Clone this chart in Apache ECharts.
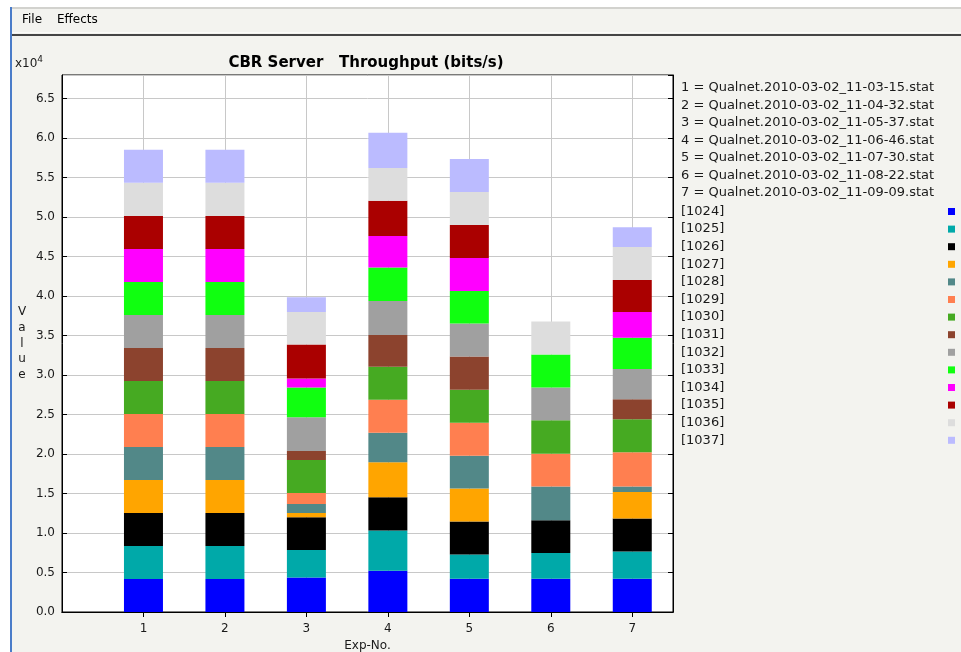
<!DOCTYPE html>
<html>
<head>
<meta charset="utf-8">
<title>CBR Server Throughput</title>
<script src="https://cdn.jsdelivr.net/npm/echarts@6.0.0/dist/echarts.min.js"></script>
<style>
  html, body { margin: 0; padding: 0; background: #fff; }
  #chart { width: 961px; height: 652px; }
</style>
</head>
<body>
<div id="chart"></div>
<script>
// experiment numbers (x axis) and the stat file behind each one
const expNo = ['1', '2', '3', '4', '5', '6', '7'];
const expFiles = [
  'Qualnet.2010-03-02_11-03-15.stat',
  'Qualnet.2010-03-02_11-04-32.stat',
  'Qualnet.2010-03-02_11-05-37.stat',
  'Qualnet.2010-03-02_11-06-46.stat',
  'Qualnet.2010-03-02_11-07-30.stat',
  'Qualnet.2010-03-02_11-08-22.stat',
  'Qualnet.2010-03-02_11-09-09.stat'
];
const flows = ['[1024]', '[1025]', '[1026]', '[1027]', '[1028]', '[1029]', '[1030]',
  '[1031]', '[1032]', '[1033]', '[1034]', '[1035]', '[1036]', '[1037]'];

// throughput in bits/s, one value per flow (1024 .. 1037)
const exp1 = [4180, 4180, 4180, 4180, 4180, 4180, 4180, 4180, 4180, 4180, 4180, 4180, 4180, 4180];
const exp2 = [4180, 4180, 4180, 4180, 4180, 4180, 4180, 4180, 4180, 4180, 4180, 4180, 4180, 4180];
const exp3 = [4370, 3470, 4170, 540, 1140, 1390, 4170, 1140, 4260, 3790, 1140, 4300, 4120, 1860];
const exp4 = [5220, 5100, 4220, 4420, 3750, 4170, 4170, 4040, 4300, 4230, 3990, 4480, 4120, 4470];
const exp5 = [4210, 3070, 4170, 4180, 4170, 4170, 4170, 4220, 4180, 4120, 4170, 4170, 4170, 4180];
const exp6 = [4210, 3250, 4170, 0, 4250, 4170, 4220, 0, 4170, 4180, 0, 0, 4170, 0];
const exp7 = [4210, 3450, 4170, 3380, 670, 4350, 4170, 2530, 3830, 3960, 3280, 4050, 4170, 2490];

const flowColors = ['#0000ff', '#00a9a9', '#000000', '#ffa500', '#528888', '#ff7f50', '#46aa22',
  '#8c432e', '#a0a0a0', '#10ff10', '#ff00ff', '#aa0000', '#dddddd', '#bbbbff'];

const expValues = [exp1, exp2, exp3, exp4, exp5, exp6, exp7];

// x axis runs 0 .. 7.5 in half steps, so the bars sit on whole numbers
const slots = [];
for (let i = 0; i <= 15; i++) {
  slots.push(i % 2 === 0 && i > 0 ? expNo[i / 2 - 1] : '');
}
const onExp = (i, v) => v !== '';

const font = 'DejaVu Sans';
const ink = '#1a1a1a';

const chart = echarts.init(document.getElementById('chart'));

chart.setOption({
  backgroundColor: '#f3f3ef',
  animation: false,
  grid: {
    left: 62, right: 288, top: 75, bottom: 40,
    show: true,
    backgroundColor: '#fff',
    borderColor: '#000',
    borderWidth: 1,
    outerBoundsMode: 'none'
  },
  legend: {
    orient: 'vertical',
    left: 676,
    top: 200,
    align: 'right',
    icon: 'rect',
    itemWidth: 7,
    itemHeight: 7,
    itemGap: 4.6,
    data: flows,
    formatter: name => '{a|' + name + '}',
    textStyle: {
      fontFamily: font, fontSize: 13, color: ink,
      rich: { a: { width: 262, align: 'left', fontFamily: font, fontSize: 13, lineHeight: 14, color: ink } }
    }
  },
  xAxis: [
    {
      type: 'category',
      data: slots,
      boundaryGap: false,
      axisLine: { lineStyle: { color: '#000' } },
      axisTick: { show: false },
      axisLabel: { interval: 0, margin: 11, fontFamily: font, fontSize: 12, color: ink },
      splitLine: { show: true, interval: onExp, lineStyle: { color: '#c8c8c8' } },
      name: 'Exp-No.',
      nameLocation: 'middle',
      nameGap: 27,
      nameTextStyle: { fontFamily: font, fontSize: 12, color: ink }
    },
    {
      type: 'category',
      position: 'top',
      data: slots,
      boundaryGap: false,
      axisLine: { show: true, lineStyle: { color: '#000' } },
      axisTick: { show: true, inside: true, length: 5, interval: onExp, lineStyle: { color: '#000' } },
      axisLabel: { show: false },
      splitLine: { show: false }
    }
  ],
  yAxis: [
    {
      type: 'value',
      min: 0, max: 68000, interval: 5000,
      axisLine: { show: true, lineStyle: { color: '#000' } },
      axisTick: { show: true, inside: true, length: 5, lineStyle: { color: '#000' } },
      axisLabel: {
        formatter: v => (v / 10000).toFixed(1),
        margin: 7, showMaxLabel: false,
        fontFamily: font, fontSize: 12, color: ink
      },
      splitLine: { show: true, lineStyle: { color: '#c8c8c8' } },
      name: 'V\na\nl\nu\ne',
      nameLocation: 'middle',
      nameRotate: 0,
      nameGap: 40,
      nameTextStyle: { fontFamily: font, fontSize: 12, color: ink, align: 'center', lineHeight: 15.75 }
    },
    {
      type: 'value',
      position: 'right',
      min: 0, max: 68000, interval: 5000,
      axisLine: { show: true, lineStyle: { color: '#000' } },
      axisTick: { show: true, inside: true, length: 5, lineStyle: { color: '#000' } },
      axisLabel: { show: false },
      splitLine: { show: false }
    }
  ],
  graphic: [
    // window chrome: white edge, menu bar and separators
    { type: 'rect', shape: { x: 0, y: 0, width: 961, height: 8 }, style: { fill: '#fff' } },
    { type: 'rect', shape: { x: 0, y: 0, width: 10, height: 652 }, style: { fill: '#fff' } },
    { type: 'rect', shape: { x: 10, y: 7, width: 2, height: 645 }, style: { fill: '#4a7cc9' } },
    { type: 'rect', shape: { x: 12, y: 7, width: 949, height: 2 }, style: { fill: '#d2d2ce' } },
    { type: 'rect', shape: { x: 12, y: 32, width: 949, height: 1 }, style: { fill: '#fbfbf9' } },
    { type: 'rect', shape: { x: 12, y: 34, width: 949, height: 2 }, style: { fill: '#454545' } },
    { type: 'text', x: 22, y: 20, style: { text: 'File', fontFamily: font, fontSize: 12, fill: '#000', verticalAlign: 'middle' } },
    { type: 'text', x: 57, y: 20, style: { text: 'Effects', fontFamily: font, fontSize: 12, fill: '#000', verticalAlign: 'middle' } },
    // title and exponent
    {
      type: 'text', x: 366, y: 63,
      style: {
        text: 'CBR Server   Throughput (bits/s)', fontFamily: font, fontSize: 15, fontWeight: 'bold',
        fill: '#000', align: 'center', verticalAlign: 'middle'
      }
    },
    {
      type: 'text', x: 15, y: 64,
      style: {
        text: 'x10{s|4}', fontFamily: font, fontSize: 12, fill: ink, verticalAlign: 'middle',
        rich: { s: { fontFamily: font, fontSize: 9, fill: ink, verticalAlign: 'top', padding: [0, 0, 8, 0] } }
      }
    },
    // experiment file list above the flow legend
    {
      type: 'text', x: 681, y: 79,
      style: {
        text: expFiles.map((f, i) => expNo[i] + ' = ' + f).join('\n'),
        fontFamily: font, fontSize: 13, lineHeight: 17.54, fill: ink
      }
    }
  ],
  series: flows.map((name, f) => ({
    name: name,
    type: 'bar',
    stack: 'exp',
    barWidth: 39,
    itemStyle: { color: flowColors[f] },
    data: slots.map((s, i) => (s === '' ? '-' : expValues[i / 2 - 1][f]))
  }))
});
</script>
</body>
</html>
